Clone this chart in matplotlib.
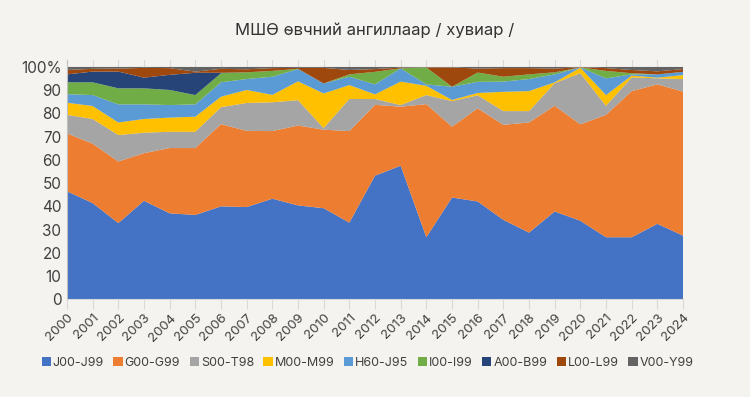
import numpy as np
import matplotlib.pyplot as plt

plt.rcParams['font.family'] = ['Inter', 'DejaVu Sans']

# өгөгдөл (хувь)
years = list(range(2000, 2025))
labels = ['J00-J99', 'G00-G99', 'S00-T98', 'M00-M99', 'H60-J95',
          'I00-I99', 'A00-B99', 'L00-L99', 'V00-Y99']

j00 = [46.5, 41.4, 32.8, 42.4, 37.0, 36.3, 40.0, 39.7, 43.3, 40.4, 39.2, 33.0, 53.2,
       57.5, 26.7, 43.8, 42.1, 34.2, 28.7, 37.8, 33.8, 26.7, 26.7, 32.5, 27.4]
g00 = [24.9, 25.6, 26.5, 20.5, 28.1, 28.8, 35.4, 32.8, 29.1, 34.4, 33.8, 39.4, 30.5,
       25.4, 57.3, 30.5, 40.1, 40.9, 47.4, 45.5, 41.5, 52.7, 62.9, 60.0, 62.0]
s00 = [8.0, 10.6, 11.4, 8.8, 7.0, 7.0, 7.3, 12.0, 12.4, 10.9, 0.7, 13.8, 2.5,
       0.7, 3.9, 11.0, 5.6, 5.9, 4.9, 9.7, 22.0, 3.9, 5.9, 2.6, 5.4]
m00 = [5.2, 5.6, 5.4, 5.9, 6.1, 6.5, 4.5, 5.6, 3.2, 8.1, 14.9, 6.0, 2.0,
       10.1, 4.0, 0.5, 1.0, 8.3, 8.6, 0.4, 2.4, 4.6, 0.8, 0.3, 1.7]
h60 = [3.7, 4.7, 7.8, 6.3, 5.4, 5.3, 6.2, 4.7, 7.8, 5.3, 4.3, 3.6, 4.3,
       5.7, 0.6, 5.7, 4.8, 4.4, 5.2, 3.4, 0.1, 7.2, 0.5, 1.4, 1.4]
i00 = [5.1, 5.5, 6.9, 6.9, 6.5, 4.0, 3.9, 2.9, 2.5, 0.1, 0.0, 1.0, 5.4,
       0.0, 7.3, 0.0, 4.0, 2.1, 2.0, 0.9, 0.0, 3.2, 0.5, 0.0, 0.0]
a00 = [3.4, 4.6, 7.2, 4.6, 6.5, 9.6, 0.2, 0.0, 0.0, 0.0, 0.0, 0.0, 0.0,
       0.0, 0.0, 0.0, 0.0, 0.0, 0.0, 0.0, 0.0, 0.0, 0.0, 0.0, 0.0]
l00 = [1.9, 1.2, 1.3, 4.2, 2.9, 0.5, 1.7, 1.3, 1.2, 0.4, 6.7, 1.9, 1.2,
       0.3, 0.0, 8.3, 1.7, 3.7, 2.7, 1.6, 0.1, 1.2, 1.4, 1.3, 1.2]
v00 = [1.3, 0.8, 0.7, 0.4, 0.5, 2.0, 0.8, 1.0, 0.5, 0.4, 0.4, 1.3, 0.9,
       0.3, 0.2, 0.2, 0.7, 0.5, 0.5, 0.7, 0.1, 0.5, 1.3, 1.9, 0.9]

colors = ['#4472C4', '#ED7D31', '#A5A5A5', '#FFC000', '#5B9BD5',
          '#70AD47', '#264478', '#9E480E', '#636363']
bg = '#F4F3EF'

series = np.array([j00, g00, s00, m00, h60, i00, a00, l00, v00])
series = series / series.sum(axis=0) * 100

fig = plt.figure(figsize=(7.5, 3.97), dpi=100, facecolor=bg)
ax = fig.add_axes([0.0893, 0.2461, 0.8214, 0.6028], facecolor=bg)

for yr in years:
    ax.axvline(yr, color='#D9D9D9', lw=0.8, zorder=0)

ax.stackplot(years, series, colors=colors, labels=labels, zorder=2)

ax.set_xlim(2000, 2024)
ax.set_ylim(0, 103)
ax.set_yticks(range(0, 101, 10))
ax.set_yticklabels(['0'] + [str(v) for v in range(10, 100, 10)] + ['100%'])
ax.set_xticks(years)
ax.set_xticklabels([str(y) for y in years], rotation=45, ha='right',
                   rotation_mode='anchor')
ax.tick_params(axis='y', length=0, labelsize=11, colors='#404040', pad=4)
ax.tick_params(axis='x', length=7, width=0.8, color='#D9D9D9',
               labelsize=9.5, labelcolor='#404040', pad=2)

for s in ['top', 'right']:
    ax.spines[s].set_visible(False)
ax.spines['left'].set_color('#BFBFBF')
ax.spines['bottom'].set_color('#D9D9D9')

fig.text(0.5, 0.925, 'МШӨ өвчний ангиллаар / хувиар /', ha='center',
         va='center', fontsize=12, color='#333333')

fig.legend(loc='center', bbox_to_anchor=(0.49, 0.086), ncol=9, frameon=False,
           fontsize=9, handlelength=0.75, handleheight=0.75,
           handletextpad=0.15, columnspacing=0.75, labelcolor='#404040')

fig.savefig('out.png', dpi=100, facecolor=bg)
